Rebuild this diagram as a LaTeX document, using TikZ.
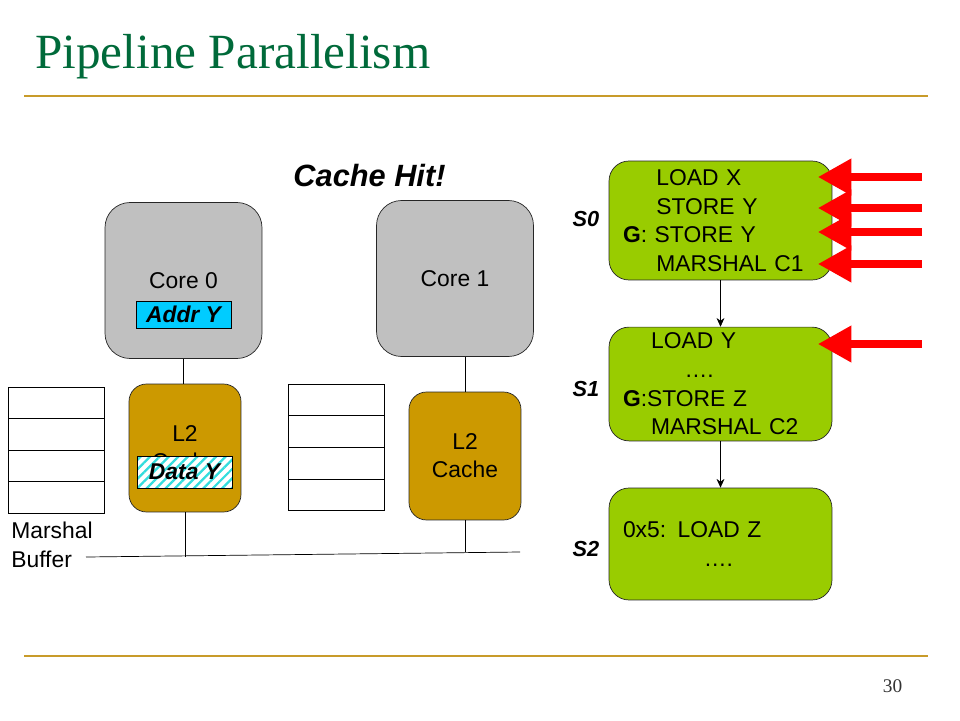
\documentclass[tikz,border=0pt]{standalone}
\usepackage{fontspec}
\setmainfont{Liberation Sans}
\newfontfamily\titlefont{Liberation Serif}
\usetikzlibrary{arrows.meta,patterns.meta}
\definecolor{titlegreen}{HTML}{006A3A}
\definecolor{rulegold}{HTML}{C89B2A}
\definecolor{coregray}{HTML}{C0C0C0}
\definecolor{cachegold}{HTML}{CC9900}
\definecolor{stagegreen}{HTML}{99CC00}
\definecolor{addrcyan}{HTML}{00CCFF}
\definecolor{hatchcyan}{HTML}{33DDDD}
\tikzset{
  core/.style={draw=black!85, fill=coregray, rounded corners=0.5cm, minimum width=3.14cm, minimum height=3.12cm, font=\fontsize{13}{16}\selectfont},
  cache/.style={draw=black!85, fill=cachegold, rounded corners=0.35cm, minimum width=2.24cm, minimum height=2.56cm, align=center, font=\fontsize{13}{16}\selectfont},
  tag/.style={draw, minimum width=1.9cm, inner sep=0pt, font=\fontsize{13}{16}\selectfont\bfseries\itshape},
  cell/.style={draw, minimum width=1.92cm, minimum height=0.63cm, inner sep=0pt},
  stage/.style={draw=black!85, fill=stagegreen, rounded corners=0.4cm, inner xsep=0.28cm, text width=3.9cm, align=left, font=\fontsize{13}{16.3}\selectfont},
  slabel/.style={font=\fontsize{12.4}{14}\selectfont\bfseries\itshape},
  hit/.style={red, line width=4pt, -{Triangle[length=19pt,width=20pt]}},
}
\begin{document}
\begin{tikzpicture}[x=0.02cm, y=-0.02cm]
    \useasboundingbox (0,0) rectangle (960,720);
    \node (title) [anchor=base west, inner sep=0pt, text=titlegreen, font=\titlefont\fontsize{28}{32}\selectfont] at (35,68) {Pipeline Parallelism};
    \draw[rulegold, line width=1.4pt] (24,96) -- (928,96);
    \draw[rulegold, line width=1.4pt] (24,656) -- (928,656);
    \node (page) [text=black!80, font=\titlefont\fontsize{11}{13}\selectfont] at (892.5,686.5) {30};

    \node (hit) [font=\fontsize{17.5}{20}\selectfont\bfseries\itshape] at (369.5,176) {Cache Hit!};

    \node (core0) [core] at (183.5,280.5) {Core 0};
    \node (core1) [core] at (455,278.5) {Core 1};
    \node (addr) [tag, fill=addrcyan, minimum height=0.54cm] at (183.5,314.5) {Addr Y};
    \node (l2a) [cache] at (185,448) {L2\\Cache};
    \node (l2b) [cache] at (465,456) {L2\\Cache};
    \node (data) [tag, minimum height=0.64cm, preaction={fill=white}, pattern={Lines[angle=45,distance=3.8pt,line width=1.3pt]}, pattern color=hatchcyan] at (184.5,472) {Data Y};

    \foreach \i in {0,...,3} {
        \node (bufa\i) [cell] at (56.5, 402.75+31.5*\i) {};
        \node (bufb\i) [cell] at (336, 399.75+31.75*\i) {};
    }
    \node (buflabel) [anchor=north west, inner sep=0pt, align=left, font=\fontsize{13}{16.5}\selectfont] at (11,522) {Marshal\\Buffer};

    \coordinate (busl) at (86,557);
    \coordinate (busr) at (520,552);
    \draw (busl) -- (busr);
    \draw (core0.south) -- (core0.south |- l2a.north);
    \draw (l2b.north) -- (l2b.north |- core1.south);
    \draw (l2a.south) -- (l2a.south |- busl);
    \draw (l2b.south) -- (l2b.south |- busr);

    \node (s0) [stage, minimum height=2.38cm] at (720.5,220.5) {\hspace*{19pt}LOAD X\\\hspace*{19pt}STORE Y\\\textbf{G}: STORE Y\\\hspace*{19pt}MARSHAL C1};
    \node (s1) [stage, minimum height=2.24cm] at (720.5,384) {\hspace*{16pt}LOAD Y\\\hspace*{35pt}….\\\textbf{G}:STORE Z\\\hspace*{16pt}MARSHAL C2};
    \node (s2) [stage, minimum height=2.24cm] at (720.5,544) {0x5: LOAD Z\\\hspace*{46pt}….};
    \draw[-{Stealth[length=5pt,width=4.5pt]}] (s0) -- (s1);
    \draw[-{Stealth[length=5pt,width=4.5pt]}] (s1) -- (s2);
    \node (s0label) [slabel] at (586,219) {S0};
    \node (s1label) [slabel] at (586,389) {S1};
    \node (s2label) [slabel] at (586,549) {S2};

    \foreach \y [count=\i] in {177,208,232,264,344} {
        \coordinate (tail\i) at (922,\y);
        \coordinate (tip\i) at (818,\y);
        \draw[hit] (tail\i) -- (tip\i);
    }
\end{tikzpicture}
\end{document}
